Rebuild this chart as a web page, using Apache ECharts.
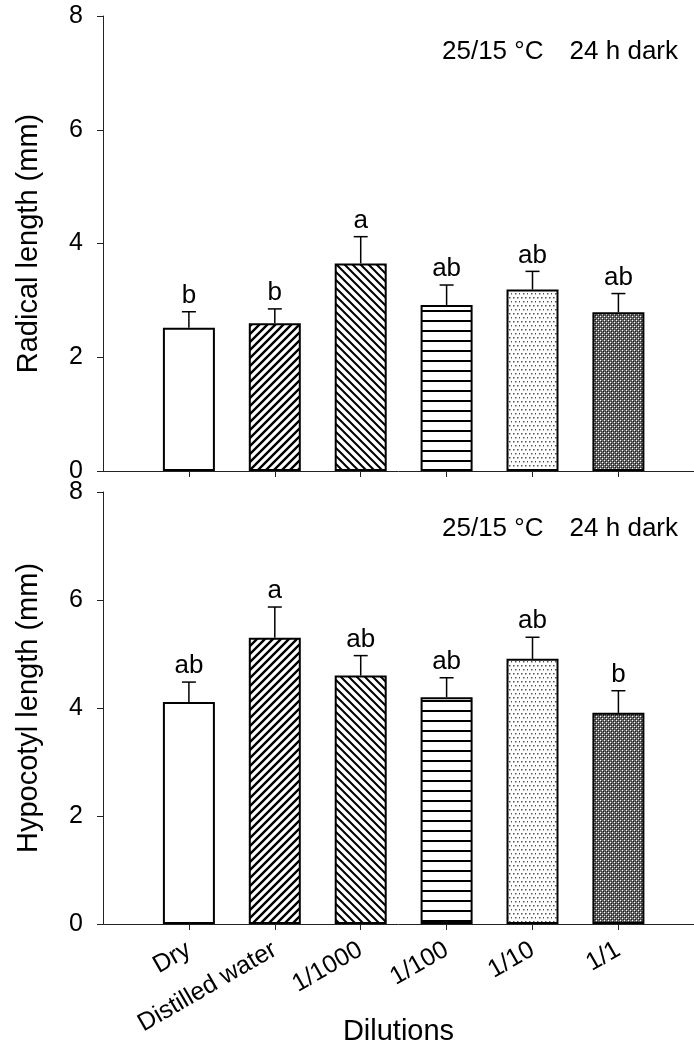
<!DOCTYPE html>
<html>
<head>
<meta charset="utf-8">
<script src="https://cdn.jsdelivr.net/npm/echarts@6/dist/echarts.min.js"></script>
<style>
html,body{margin:0;padding:0;background:#fff;}
#chart{width:694px;height:1047px;}
</style>
</head>
<body>
<div id="chart"></div>
<script>
// ---- data ----
const categories = ['Dry', 'Distilled water', '1/1000', '1/100', '1/10', '1/1'];
const radicalMean = [2.52, 2.60, 3.65, 2.92, 3.19, 2.79];
const radicalErr = [0.28, 0.25, 0.47, 0.35, 0.32, 0.33];
const radicalLetters = ['b', 'b', 'a', 'ab', 'ab', 'ab'];
const hypoMean = [4.11, 5.30, 4.60, 4.20, 4.91, 3.91];
const hypoErr = [0.37, 0.57, 0.37, 0.36, 0.40, 0.41];
const hypoLetters = ['ab', 'a', 'ab', 'ab', 'ab', 'b'];
const yTicks = [0, 2, 4, 6, 8];
const panelNote = ['25/15 °C', '24 h dark'];
const topTitle = 'Radical length (mm)';
const bottomTitle = 'Hypocotyl length (mm)';
const xTitle = 'Dilutions';

// ---- patterns ----
function makeCanvas(w, h) { const c = document.createElement('canvas'); c.width = w; c.height = h; return c; }
function diag(forward, p, lw) {
  const c = makeCanvas(p, p), g = c.getContext('2d');
  g.fillStyle = '#fff'; g.fillRect(0, 0, p, p);
  g.strokeStyle = '#000'; g.lineWidth = lw; g.lineCap = 'square';
  g.beginPath();
  if (forward) {
    g.moveTo(0, p); g.lineTo(p, 0);
    g.moveTo(-1, 1); g.lineTo(1, -1);
    g.moveTo(p - 1, p + 1); g.lineTo(p + 1, p - 1);
  } else {
    g.moveTo(0, 0); g.lineTo(p, p);
    g.moveTo(-1, p - 1); g.lineTo(1, p + 1);
    g.moveTo(p - 1, -1); g.lineTo(p + 1, 1);
  }
  g.stroke();
  return c;
}
function hlines() {
  const c = makeCanvas(4, 10), g = c.getContext('2d');
  g.fillStyle = '#fff'; g.fillRect(0, 0, 4, 10);
  g.fillStyle = '#000'; g.fillRect(0, 0, 4, 2);
  return c;
}
function dots() {
  const c = makeCanvas(8, 8), g = c.getContext('2d');
  g.fillStyle = '#fff'; g.fillRect(0, 0, 8, 8);
  g.fillStyle = '#555';
  [[1,1],[5,1],[3,5],[7,5]].forEach(p => g.fillRect(p[0], p[1], 1.5, 1.5));
  return c;
}
function dense() {
  const c = makeCanvas(4, 4), g = c.getContext('2d');
  g.fillStyle = '#6a6a6a'; g.fillRect(0, 0, 4, 4);
  g.fillStyle = '#ffffff'; g.fillRect(0, 0, 1, 1); g.fillRect(2, 2, 1, 1);
  g.fillStyle = '#1a1a1a'; g.fillRect(1, 1, 1, 1); g.fillRect(3, 3, 1, 1);
  g.fillStyle = '#3a3a3a'; g.fillRect(1, 3, 1, 1); g.fillRect(3, 1, 1, 1);
  return c;
}
const fills = [
  '#ffffff',
  { image: diag(true, 8, 2.4), repeat: 'repeat' },
  { image: diag(false, 8, 2.0), repeat: 'repeat' },
  { image: hlines(), repeat: 'repeat' },
  { image: dots(), repeat: 'repeat' },
  { image: dense(), repeat: 'repeat' }
];

const FONT = 'Liberation Sans, Arial, sans-serif';
const xPos = categories.map((c, i) => i + 1);

function barData(means) {
  return means.map((v, i) => ({ value: [xPos[i], v], itemStyle: { color: fills[i] } }));
}
function errData(means, errs) {
  return means.map((v, i) => [xPos[i], v, v + errs[i]]);
}
function errRender(letters) {
  return function (params, api) {
    const x = api.value(0);
    const p0 = api.coord([x, api.value(1)]);
    const p1 = api.coord([x, api.value(2)]);
    const st = { stroke: '#000', lineWidth: 1.5 };
    return {
      type: 'group',
      children: [
        { type: 'line', shape: { x1: p0[0], y1: p0[1], x2: p1[0], y2: p1[1] }, style: st },
        { type: 'line', shape: { x1: p1[0] - 7, y1: p1[1], x2: p1[0] + 7, y2: p1[1] }, style: st },
        { type: 'text', x: p1[0], y: p1[1] - 3,
          style: { text: letters[params.dataIndex], align: 'center', verticalAlign: 'bottom',
                   fill: '#000', fontSize: 26, fontFamily: FONT } }
      ]
    };
  };
}

function xAxis(gridIndex, withLabels) {
  return {
    type: 'value', gridIndex, min: 0, max: 6.88, interval: 1,
    axisLine: { show: true, onZero: false, lineStyle: { color: '#222', width: 1 } },
    axisTick: { show: true, length: 6, customValues: xPos, lineStyle: { color: '#222' } },
    axisLabel: {
      show: withLabels, customValues: xPos, rotate: 30, margin: 24,
      formatter: v => categories[Math.round(v) - 1] || '',
      color: '#000', fontSize: 25, fontFamily: FONT
    },
    splitLine: { show: false },
    name: withLabels ? xTitle : '', nameLocation: 'middle', nameGap: 93, nameMoveOverlap: false,
    nameTextStyle: { color: '#000', fontSize: 29, fontFamily: FONT }
  };
}
function yAxis(gridIndex, title) {
  return {
    type: 'value', gridIndex, min: 0, max: 8, interval: 2,
    axisLine: { show: true, lineStyle: { color: '#222', width: 1 } },
    axisTick: { show: true, length: 6, customValues: yTicks, lineStyle: { color: '#222' } },
    axisLabel: { customValues: yTicks, color: '#000', fontSize: 25, fontFamily: FONT, margin: 20 },
    splitLine: { show: false },
    name: title, nameLocation: 'middle', nameGap: 60, nameMoveOverlap: false,
    nameTextStyle: { color: '#000', fontSize: 29, fontFamily: FONT }
  };
}

const chart = echarts.init(document.getElementById('chart'), null, { renderer: 'canvas' });
chart.setOption({
  backgroundColor: '#fff',
  animation: false,
  grid: [
    { left: 103, right: 0, top: 16, height: 455, outerBoundsMode: 'none' },
    { left: 103, right: 0, top: 492, height: 432, outerBoundsMode: 'none' }
  ],
  xAxis: [xAxis(0, false), xAxis(1, true)],
  yAxis: [yAxis(0, topTitle), yAxis(1, bottomTitle)],
  graphic: [
    { type: 'text', left: 442, top: 39, style: { text: panelNote[0], fill: '#000', fontSize: 26, fontFamily: FONT } },
    { type: 'text', right: 16, top: 39, style: { text: panelNote[1], fill: '#000', fontSize: 26, fontFamily: FONT } },
    { type: 'text', left: 442, top: 516, style: { text: panelNote[0], fill: '#000', fontSize: 26, fontFamily: FONT } },
    { type: 'text', right: 16, top: 516, style: { text: panelNote[1], fill: '#000', fontSize: 26, fontFamily: FONT } }
  ],
  series: [
    { type: 'bar', xAxisIndex: 0, yAxisIndex: 0, barWidth: 52, data: barData(radicalMean),
      itemStyle: { borderColor: '#000', borderWidth: 2 }, z: 2 },
    { type: 'custom', xAxisIndex: 0, yAxisIndex: 0, data: errData(radicalMean, radicalErr),
      encode: { x: 0, y: [1, 2] }, renderItem: errRender(radicalLetters), z: 3 },
    { type: 'bar', xAxisIndex: 1, yAxisIndex: 1, barWidth: 52, data: barData(hypoMean),
      itemStyle: { borderColor: '#000', borderWidth: 2 }, z: 2 },
    { type: 'custom', xAxisIndex: 1, yAxisIndex: 1, data: errData(hypoMean, hypoErr),
      encode: { x: 0, y: [1, 2] }, renderItem: errRender(hypoLetters), z: 3 }
  ]
});
</script>
</body>
</html>
